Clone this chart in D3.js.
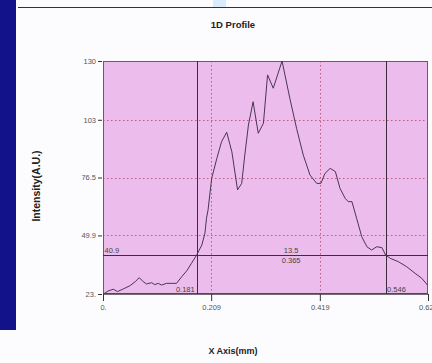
<!DOCTYPE html>
<html>
<head>
<meta charset="utf-8">
<script src="https://cdn.jsdelivr.net/npm/d3@7"></script>
<style>
  html, body { margin: 0; padding: 0; background: #fcfcfe; }
  svg { display: block; font-family: "Liberation Sans", Arial, sans-serif; }
</style>
</head>
<body>
<svg id="chart" width="432" height="363"></svg>
<script>
// Profile samples: position along the line (mm) and intensity (A.U.)
const positions = [0.001, 0.010, 0.020, 0.028, 0.039, 0.052, 0.062, 0.070, 0.078, 0.084,
  0.094, 0.100, 0.107, 0.113, 0.123, 0.133, 0.142, 0.152, 0.162, 0.171,
  0.181, 0.191, 0.197, 0.200, 0.203, 0.210, 0.220, 0.229, 0.239, 0.249,
  0.260, 0.268, 0.274, 0.281, 0.290, 0.300, 0.310, 0.318, 0.329, 0.346,
  0.361, 0.374, 0.387, 0.400, 0.413, 0.421, 0.429, 0.439, 0.449, 0.458,
  0.468, 0.474, 0.481, 0.490, 0.500, 0.510, 0.519, 0.529, 0.539, 0.546,
  0.555, 0.571, 0.587, 0.603, 0.616, 0.627];
const intensities = [23.0, 24.4, 25.2, 24.1, 25.3, 26.8, 28.6, 30.5, 28.6, 27.6,
  28.2, 27.3, 27.9, 27.1, 27.9, 27.9, 27.9, 30.9, 33.7, 37.1,
  40.9, 45.5, 50.9, 57.8, 61.6, 76.1, 85.3, 92.9, 97.3, 88.3,
  70.8, 73.8, 86.8, 100.6, 111.3, 96.8, 101.4, 123.6, 117.5, 130.0,
  112.9, 99.1, 86.8, 77.6, 73.8, 73.8, 78.4, 80.7, 79.2, 71.5,
  66.9, 65.4, 65.4, 57.8, 49.3, 44.7, 43.2, 44.7, 44.3, 40.9,
  39.4, 37.8, 35.5, 32.5, 30.2, 27.1];

// Axis ticks and their printed labels
const xTicks = [0, 0.209, 0.419, 0.628];
const xTickLabels = ["0.", "0.209", "0.419", "0.628"];
const yTicks = [23, 49.9, 76.5, 103, 130];
const yTickLabels = ["23.", "49.9", "76.5", "103", "130"];

// Measurement cursors
const cursorLeft = 0.181;
const cursorRight = 0.546;
const levelValue = 40.9;
const levelLabel = "40.9";
const peakLabel = "13.5";
const widthLabel = "0.365";

const svg = d3.select("#chart");

// Window decoration
svg.append("rect").attr("x", 0).attr("y", 0).attr("width", 16).attr("height", 330).attr("fill", "#12128a");
svg.append("rect").attr("x", 213).attr("y", 0).attr("width", 13).attr("height", 7).attr("fill", "#d8ecfb");
svg.append("line").attr("x1", 18).attr("x2", 432).attr("y1", 7.5).attr("y2", 7.5)
  .attr("stroke", "#333").attr("stroke-width", 1.2);

const plot = { left: 103, top: 61, right: 428, bottom: 294 };
const x = d3.scaleLinear().domain([0, 0.628]).range([plot.left, plot.right]);
const y = d3.scaleLinear().domain([23, 130]).range([plot.bottom, plot.top]);

// Plot background
svg.append("rect")
  .attr("x", plot.left).attr("y", plot.top)
  .attr("width", plot.right - plot.left).attr("height", plot.bottom - plot.top)
  .attr("fill", "#ecbdec");

// Dotted grid
const grid = svg.append("g").attr("stroke", "#d2517a").attr("stroke-width", 1)
  .attr("stroke-dasharray", "1.5,2.5");
grid.selectAll("line.h").data(yTicks.slice(1, -1)).join("line")
  .attr("x1", plot.left).attr("x2", plot.right)
  .attr("y1", d => Math.round(y(d)) + 0.5).attr("y2", d => Math.round(y(d)) + 0.5);
grid.selectAll("line.v").data(xTicks.slice(1, -1)).join("line")
  .attr("y1", plot.top).attr("y2", plot.bottom)
  .attr("x1", d => Math.round(x(d)) + 0.5).attr("x2", d => Math.round(x(d)) + 0.5);

// Frame
svg.append("rect")
  .attr("x", plot.left + 0.5).attr("y", plot.top + 0.5)
  .attr("width", plot.right - plot.left - 1).attr("height", plot.bottom - plot.top - 1)
  .attr("fill", "none").attr("stroke", "#6a5a6a").attr("stroke-width", 1);
svg.append("line").attr("x1", plot.left).attr("x2", plot.right)
  .attr("y1", plot.bottom).attr("y2", plot.bottom)
  .attr("stroke", "#4a404a").attr("stroke-width", 1.6);

// Axes
const xAxis = d3.axisBottom(x).tickValues(xTicks)
  .tickFormat((d, i) => xTickLabels[i]).tickSize(7).tickSizeOuter(0);
const gx = svg.append("g").attr("transform", `translate(0,${plot.bottom})`).call(xAxis);
gx.select(".domain").remove();
gx.selectAll(".tick line").attr("stroke", "#333");
gx.selectAll(".tick text").attr("y", 11).attr("fill", "#555")
  .attr("font-size", 7.5).attr("font-family", "Liberation Sans, Arial, sans-serif");

const yAxis = d3.axisLeft(y).tickValues(yTicks)
  .tickFormat((d, i) => yTickLabels[i]).tickSize(4).tickSizeOuter(0);
const gy = svg.append("g").attr("transform", `translate(${plot.left - 1},0)`).call(yAxis);
gy.select(".domain").remove();
gy.selectAll(".tick line").attr("stroke", "#333");
gy.selectAll(".tick text").attr("x", -6).attr("fill", "#555")
  .attr("font-size", 7.5).attr("font-family", "Liberation Sans, Arial, sans-serif");

// Cursor lines
const cur = svg.append("g").attr("stroke", "#3c2c3c").attr("stroke-width", 1);
cur.selectAll("line.c").data([cursorLeft, cursorRight]).join("line")
  .attr("x1", d => Math.round(x(d)) + 0.5).attr("x2", d => Math.round(x(d)) + 0.5)
  .attr("y1", plot.top).attr("y2", plot.bottom);
cur.append("line")
  .attr("x1", plot.left).attr("x2", plot.right)
  .attr("y1", Math.round(y(levelValue)) + 0.5).attr("y2", Math.round(y(levelValue)) + 0.5);

// Profile line
const line = d3.line().x((d, i) => x(positions[i])).y(d => y(d));
svg.append("path").datum(intensities)
  .attr("d", line).attr("fill", "none")
  .attr("stroke", "#4a3552").attr("stroke-width", 1).attr("stroke-linejoin", "round");

// Cursor annotations
const ann = svg.append("g").attr("fill", "#444").attr("font-size", 7.5);
ann.append("text").attr("x", x(0) + 1.5).attr("y", y(levelValue) - 2.5).text(levelLabel);
const mid = x((cursorLeft + cursorRight) / 2);
ann.append("text").attr("x", mid).attr("y", y(levelValue) - 2.5).attr("text-anchor", "middle").text(peakLabel);
ann.append("text").attr("x", mid).attr("y", y(levelValue) + 8).attr("text-anchor", "middle").text(widthLabel);
ann.append("text").attr("x", x(cursorLeft) - 2).attr("y", plot.bottom - 2).attr("text-anchor", "end").text(cursorLeft);
ann.append("text").attr("x", x(cursorRight) + 1.5).attr("y", plot.bottom - 2).text(cursorRight);

// Titles
svg.append("text").attr("x", 233).attr("y", 28).attr("text-anchor", "middle")
  .attr("font-size", 9.5).attr("font-weight", "bold").attr("fill", "#222").text("1D Profile");
svg.append("text").attr("x", 233).attr("y", 354).attr("text-anchor", "middle")
  .attr("font-size", 9).attr("font-weight", "bold").attr("fill", "#222").text("X Axis(mm)");
svg.append("text").attr("transform", "translate(40,186) rotate(-90)").attr("text-anchor", "middle")
  .attr("font-size", 10.5).attr("font-weight", "bold").attr("fill", "#222").text("Intensity(A.U.)");
</script>
</body>
</html>
